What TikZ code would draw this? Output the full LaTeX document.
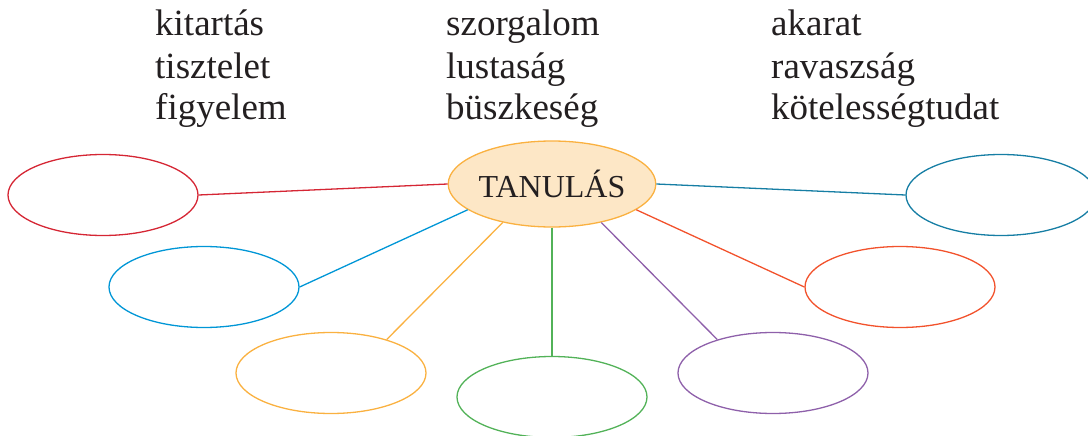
\documentclass[tikz,border=0pt]{standalone}
\usepackage{fontspec}
\setmainfont{Liberation Serif}
\usetikzlibrary{shapes.geometric}
\definecolor{szoveg}{RGB}{35,31,32}
\definecolor{cpiros}{RGB}{213,38,52}
\definecolor{ckek}{RGB}{0,150,214}
\definecolor{csarga}{RGB}{250,177,64}
\definecolor{czold}{RGB}{82,178,88}
\definecolor{clila}{RGB}{142,96,170}
\definecolor{cnarancs}{RGB}{242,82,44}
\definecolor{ctürkiz}{RGB}{22,126,164}
\definecolor{cfill}{RGB}{253,231,198}

\begin{document}
\begin{tikzpicture}[x=1pt,y=-1pt,
    kor/.style={ellipse,draw,line width=1.3pt,minimum width=190pt,minimum height=81pt,inner sep=0pt},
    szo/.style={anchor=base west,inner sep=0pt,text=szoveg,font=\fontsize{37}{42}\selectfont}]
    \useasboundingbox (0,0) rectangle (1088,436);
    \node[szo] (w1) at (155,36) {kitartás};
    \node[szo] (w2) at (155,79) {tisztelet};
    \node[szo] (w3) at (155,120) {figyelem};
    \node[szo] (w4) at (446,36) {szorgalom};
    \node[szo] (w5) at (446,79) {lustaság};
    \node[szo] (w6) at (446,120) {büszkeség};
    \node[szo] (w7) at (771,36) {akarat};
    \node[szo] (w8) at (771,79) {ravaszság};
    \node[szo] (w9) at (771,120) {kötelességtudat};
    \node[ellipse,draw=csarga,fill=cfill,line width=1.3pt,minimum width=206pt,minimum height=86pt,inner sep=0pt,text=szoveg,font=\fontsize{32}{36}\selectfont] (tan) at (552,184) {TANULÁS};
    \node[kor,cpiros] (e1) at (103,195) {};
    \node[kor,ckek] (e2) at (204,287) {};
    \node[kor,csarga] (e3) at (331,373) {};
    \node[kor,czold] (e4) at (552,397) {};
    \node[kor,clila] (e5) at (773,373) {};
    \node[kor,cnarancs] (e6) at (900,287) {};
    \node[kor,ctürkiz] (e7) at (1001,195) {};
    \draw[cpiros,line width=1.3pt](tan.west)--(e1.east);
    \draw[ckek,line width=1.3pt](tan.197)--(e2.east);
    \draw[csarga,line width=1.3pt](tan.218)--(e3.31);
    \draw[czold,line width=1.3pt](tan.south)--(e4.north);
    \draw[clila,line width=1.3pt](tan.322)--(e5.149);
    \draw[cnarancs,line width=1.3pt](tan.343)--(e6.west);
    \draw[ctürkiz,line width=1.3pt](tan.east)--(e7.west);
\end{tikzpicture}
\end{document}
